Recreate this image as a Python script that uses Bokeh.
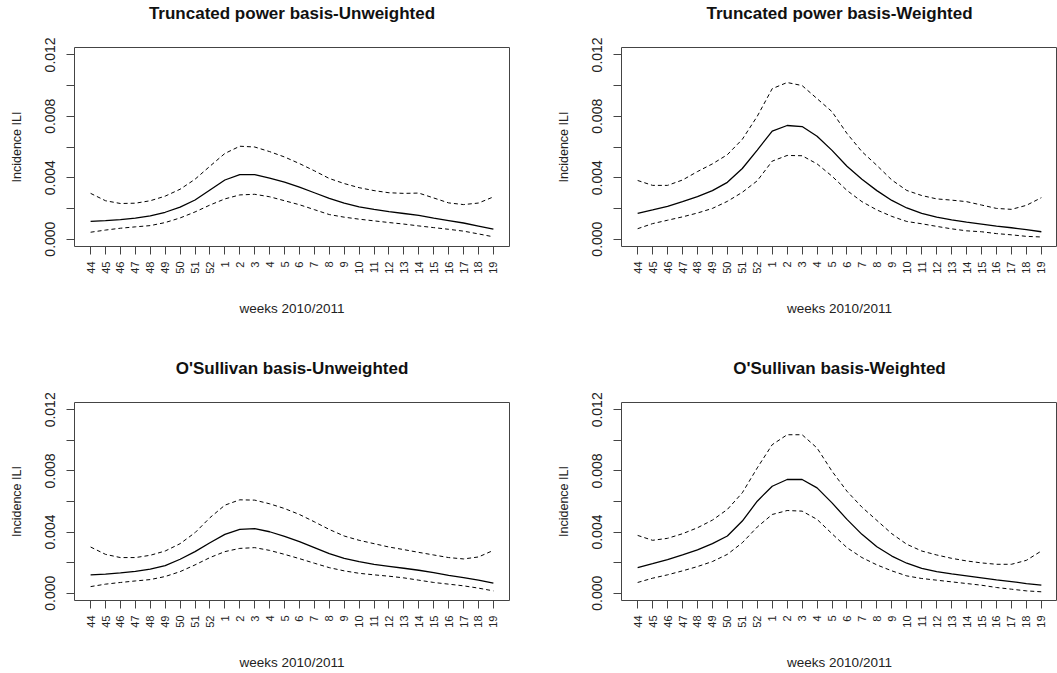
import math
from bokeh.plotting import figure
from bokeh.models import Range1d, FixedTicker, NumeralTickFormatter, ColumnDataSource, Title
from bokeh.layouts import column, row
from bokeh.embed import file_html
from bokeh.resources import INLINE

# ---------------- data ----------------
weeks = ["44", "45", "46", "47", "48", "49", "50", "51", "52",
         "1", "2", "3", "4", "5", "6", "7", "8", "9", "10",
         "11", "12", "13", "14", "15", "16", "17", "18", "19"]

y_ticks = [0.000, 0.004, 0.008, 0.012]
y_minor_ticks = [0.002, 0.006, 0.010]

tp_unw_fit = [0.00116, 0.00120, 0.00127, 0.00137, 0.00151, 0.00175, 0.00209, 0.00255, 0.00320,
              0.00385, 0.00420, 0.00420, 0.00397, 0.00371, 0.00338, 0.00302, 0.00266, 0.00234,
              0.00210, 0.00194, 0.00179, 0.00167, 0.00155, 0.00137, 0.00121, 0.00105, 0.00085, 0.00065]
tp_unw_upper = [0.00298, 0.00250, 0.00232, 0.00234, 0.00250, 0.00280, 0.00325, 0.00390, 0.00475,
                0.00558, 0.00605, 0.00600, 0.00570, 0.00535, 0.00492, 0.00445, 0.00395, 0.00362,
                0.00335, 0.00316, 0.00302, 0.00298, 0.00300, 0.00268, 0.00236, 0.00225, 0.00235, 0.00275]
tp_unw_lower = [0.00045, 0.00059, 0.00071, 0.00080, 0.00088, 0.00108, 0.00138, 0.00177, 0.00222,
                0.00262, 0.00288, 0.00292, 0.00276, 0.00250, 0.00224, 0.00192, 0.00160, 0.00143,
                0.00130, 0.00119, 0.00108, 0.00098, 0.00086, 0.00075, 0.00064, 0.00052, 0.00034, 0.00015]

tp_w_fit = [0.00167, 0.00190, 0.00214, 0.00244, 0.00277, 0.00316, 0.00370, 0.00460, 0.00580,
            0.00704, 0.00740, 0.00733, 0.00670, 0.00578, 0.00475, 0.00390, 0.00316, 0.00252,
            0.00203, 0.00168, 0.00143, 0.00126, 0.00111, 0.00098, 0.00085, 0.00074, 0.00062, 0.00048]
tp_w_upper = [0.00382, 0.00350, 0.00350, 0.00385, 0.00440, 0.00490, 0.00550, 0.00650, 0.00800,
              0.00980, 0.01020, 0.01000, 0.00915, 0.00830, 0.00688, 0.00570, 0.00480, 0.00385,
              0.00317, 0.00284, 0.00262, 0.00254, 0.00244, 0.00222, 0.00200, 0.00194, 0.00220, 0.00270]
tp_w_lower = [0.00068, 0.00101, 0.00123, 0.00145, 0.00170, 0.00200, 0.00246, 0.00305, 0.00380,
              0.00508, 0.00545, 0.00543, 0.00490, 0.00410, 0.00317, 0.00244, 0.00190, 0.00148,
              0.00115, 0.00100, 0.00083, 0.00067, 0.00054, 0.00048, 0.00036, 0.00028, 0.00018, 0.00014]

os_unw_fit = [0.00120, 0.00124, 0.00133, 0.00143, 0.00157, 0.00180, 0.00222, 0.00272, 0.00330,
              0.00385, 0.00417, 0.00422, 0.00402, 0.00372, 0.00337, 0.00298, 0.00259, 0.00228,
              0.00207, 0.00189, 0.00176, 0.00163, 0.00150, 0.00135, 0.00117, 0.00102, 0.00085, 0.00065]
os_unw_upper = [0.00302, 0.00254, 0.00233, 0.00233, 0.00248, 0.00276, 0.00324, 0.00396, 0.00494,
                0.00576, 0.00611, 0.00609, 0.00585, 0.00554, 0.00515, 0.00467, 0.00417, 0.00374,
                0.00346, 0.00324, 0.00302, 0.00285, 0.00267, 0.00250, 0.00233, 0.00224, 0.00237, 0.00280]
os_unw_lower = [0.00043, 0.00059, 0.00070, 0.00080, 0.00089, 0.00109, 0.00141, 0.00185, 0.00233,
                0.00272, 0.00293, 0.00298, 0.00280, 0.00254, 0.00226, 0.00196, 0.00167, 0.00146,
                0.00130, 0.00120, 0.00111, 0.00100, 0.00085, 0.00070, 0.00059, 0.00048, 0.00033, 0.00015]

os_w_fit = [0.00167, 0.00193, 0.00220, 0.00250, 0.00283, 0.00324, 0.00374, 0.00472, 0.00602,
            0.00700, 0.00744, 0.00744, 0.00689, 0.00591, 0.00483, 0.00385, 0.00304, 0.00243,
            0.00196, 0.00163, 0.00141, 0.00126, 0.00113, 0.00100, 0.00087, 0.00076, 0.00063, 0.00052]
os_w_upper = [0.00378, 0.00346, 0.00359, 0.00389, 0.00428, 0.00478, 0.00548, 0.00657, 0.00820,
              0.00972, 0.01037, 0.01037, 0.00950, 0.00798, 0.00667, 0.00563, 0.00476, 0.00389,
              0.00320, 0.00276, 0.00250, 0.00228, 0.00211, 0.00198, 0.00189, 0.00189, 0.00215, 0.00276]
os_w_lower = [0.00070, 0.00098, 0.00120, 0.00146, 0.00174, 0.00207, 0.00254, 0.00330, 0.00433,
              0.00515, 0.00541, 0.00537, 0.00483, 0.00389, 0.00298, 0.00233, 0.00185, 0.00146,
              0.00113, 0.00096, 0.00085, 0.00074, 0.00063, 0.00052, 0.00037, 0.00026, 0.00015, 0.00009]

FONT = "Liberation Sans"
INK = "#222222"
BOX = "#444444"


def panel(title, fit, upper, lower, w, h, bl, br, bt, bb):
    n = len(weeks)
    idx = list(range(n))
    src = ColumnDataSource(dict(x=idx, fit=fit, upper=upper, lower=lower))
    p = figure(width=w, height=h, output_backend="svg", toolbar_location=None,
               x_range=Range1d(-0.04 * (n - 1), (n - 1) * 1.04),
               y_range=Range1d(-0.00048, 0.01248),
               min_border_left=bl, min_border_right=br,
               min_border_top=bt, min_border_bottom=bb)
    p.grid.visible = False
    p.background_fill_color = "white"
    p.border_fill_color = "white"
    p.outline_line_color = BOX
    p.outline_line_width = 1
    p.outline_line_alpha = 1

    # spacer between frame and title, then the title itself (stacked outward)
    p.add_layout(Title(text=" ", text_font_size="12px", standoff=9), "above")
    p.add_layout(Title(text=title, text_font=FONT, text_font_size="17px",
                       text_font_style="bold", text_color="#111111", align="center",
                       standoff=0),
                 "above")

    p.line("x", "fit", source=src, line_color="black", line_width=1.3)
    p.line("x", "upper", source=src, line_color="black", line_width=1, line_dash="4 3")
    p.line("x", "lower", source=src, line_color="black", line_width=1, line_dash="4 3")

    xa = p.xaxis[0]
    xa.ticker = FixedTicker(ticks=idx)
    xa.major_label_overrides = {i: wk for i, wk in enumerate(weeks)}
    xa.major_label_orientation = math.pi / 2
    xa.major_label_text_font = FONT
    xa.major_label_text_font_size = "11px"
    xa.major_label_text_color = INK
    xa.major_label_standoff = 7
    xa.major_tick_out = 8
    xa.major_tick_in = 0
    xa.major_tick_line_color = BOX
    xa.minor_tick_line_color = None
    xa.axis_line_color = None
    xa.axis_label = "weeks 2010/2011"
    xa.axis_label_text_font = FONT
    xa.axis_label_text_font_size = "13.5px"
    xa.axis_label_text_font_style = "normal"
    xa.axis_label_text_color = INK
    xa.axis_label_standoff = 24

    ya = p.yaxis[0]
    ya.ticker = FixedTicker(ticks=y_ticks, minor_ticks=y_minor_ticks)
    ya.formatter = NumeralTickFormatter(format="0.000")
    ya.major_label_orientation = "vertical"
    ya.major_label_text_font = FONT
    ya.major_label_text_font_size = "14px"
    ya.major_label_text_color = INK
    ya.major_label_standoff = 11
    ya.major_tick_out = 8
    ya.major_tick_in = 0
    ya.minor_tick_out = 8
    ya.minor_tick_in = 0
    ya.major_tick_line_color = BOX
    ya.minor_tick_line_color = BOX
    ya.axis_line_color = None
    ya.axis_label = "Incidence ILI"
    ya.axis_label_text_font = FONT
    ya.axis_label_text_font_size = "12.5px"
    ya.axis_label_text_font_style = "normal"
    ya.axis_label_text_color = INK
    ya.axis_label_standoff = 19
    return p


p1 = panel("Truncated power basis-Unweighted", tp_unw_fit, tp_unw_upper, tp_unw_lower,
           530, 340, 74, 21, 47, 94)
p2 = panel("Truncated power basis-Weighted", tp_w_fit, tp_w_upper, tp_w_lower,
           527, 340, 91, 0, 47, 94)
p3 = panel("O'Sullivan basis-Unweighted", os_unw_fit, os_unw_upper, os_unw_lower,
           530, 333, 74, 21, 62, 73)
p4 = panel("O'Sullivan basis-Weighted", os_w_fit, os_w_upper, os_w_lower,
           527, 333, 91, 0, 62, 73)

layout = column(row(p1, p2), row(p3, p4))
open("out.html", "w").write(file_html(layout, INLINE))
